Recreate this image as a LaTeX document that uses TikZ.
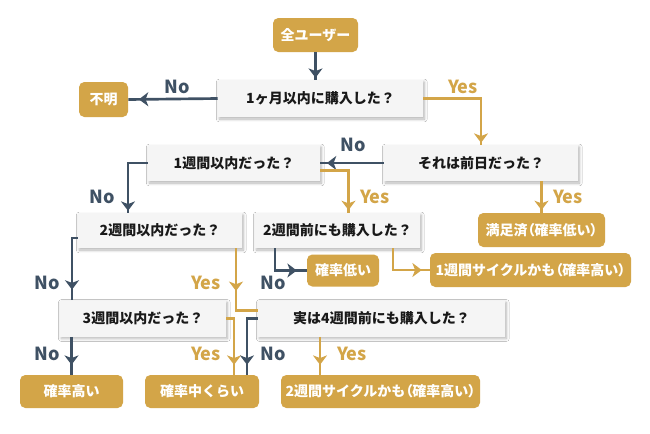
\documentclass[tikz,border=0pt]{standalone}
\usepackage{fontspec}
\setmainfont{Noto Sans CJK JP}
\usetikzlibrary{arrows.meta,decorations.markings,shadows.blur,calc}
\definecolor{gold}{HTML}{D3A548}
\definecolor{navy}{HTML}{3F5164}
\definecolor{qfill}{HTML}{F5F5F5}
\newcommand\jlp{{\addfontfeature{RawFeature=+palt}（}}
\newcommand\jrp{{\addfontfeature{RawFeature=+palt}）}}
\tikzset{
  qbox/.style={fill=qfill, text=black!90, inner sep=0pt,
    font=\fontsize{10.5}{12}\selectfont\bfseries,
    blur shadow={shadow xshift=1pt, shadow yshift=-1.5pt, shadow blur steps=6, shadow opacity=30}},
  abox/.style={fill=gold, rounded corners=4pt, text=white, inner sep=0pt,
    font=\fontsize{10.5}{12}\selectfont\bfseries},
  sz/.style 2 args={minimum width=#1, minimum height=#2},
  conn/.style={line width=2pt},
  nconn/.style={conn, draw=navy},
  yconn/.style={conn, draw=gold},
  tipgap/.style={postaction={decorate}, decoration={markings,
    mark=at position -#1 with {\arrow{Stealth[length=7pt,width=10.5pt,inset=2pt]}}}},
  nolab/.style={text=navy, font=\fontsize{13.5}{15}\selectfont\bfseries, inner sep=0pt},
  yeslab/.style={text=gold, font=\fontsize{13.5}{15}\selectfont\bfseries, inner sep=0pt},
}
\begin{document}
\begin{tikzpicture}[x=0.75pt,y=-0.75pt]
\useasboundingbox[fill=white] (0,0) rectangle (650,433);
% nodes
\node[abox, sz={63.75pt}{25.5pt}] (all) at (315.5,35) {全ユーザー};
\node[qbox, sz={153.75pt}{27.75pt}] (m1) at (320.5,98.5) {1ヶ月以内に購入した？};
\node[abox, sz={36.75pt}{26.25pt}] (fumei) at (103.5,99.5) {不明};
\node[qbox, sz={145.5pt}{27pt}] (zen) at (481,163) {それは前日だった？};
\node[qbox, sz={129pt}{27pt}] (w1) at (234,163) {1週間以内だった？};
\node[abox, sz={95.25pt}{25.5pt}] (manzoku) at (541.5,230) {満足済\jlp 確率低い\jrp};
\node[qbox, sz={123.75pt}{26.25pt}] (w2mae) at (337.5,230.5) {2週間前にも購入した？};
\node[qbox, sz={123pt}{26.25pt}] (w2) at (160,230.5) {2週間以内だった？};
\node[abox, sz={54pt}{24pt}] (low) at (343,270.5) {確率低い};
\node[abox, sz={150.75pt}{25.5pt}] (cyc1) at (530.5,270) {1週間サイクルかも\jlp 確率高い\jrp};
\node[qbox, sz={124.5pt}{27pt}] (w3) at (143,318.5) {3週間以内だった？};
\node[qbox, sz={185.25pt}{27pt}] (w4) at (381.5,318.5) {実は4週間前にも購入した？};
\node[abox, sz={77.25pt}{24.75pt}] (high) at (71.5,391.5) {確率高い};
\node[abox, sz={85.5pt}{24.75pt}] (mid) at (202,391.5) {確率中くらい};
\node[abox, sz={149.25pt}{24.75pt}] (cyc2) at (380.5,391.5) {2週間サイクルかも\jlp 確率高い\jrp};
% connectors
\draw[nconn, tipgap=1.5pt] (all.south) -- (all.south |- m1.north);
\draw[nconn, tipgap=8pt] (m1.west) -- (fumei.east);
\draw[yconn, tipgap=1.5pt] (m1.east) -| (zen.north);
\draw[nconn, tipgap=5pt] (zen.west) -- (w1.east);
\draw[yconn, tipgap=2pt] (zen.south -| manzoku.north) -- (manzoku.north);
\draw[yconn, tipgap=2pt] ($(w1.east)+(0,7.5)$) -| ($(w2mae.north)+(11,0)$);
\draw[nconn, tipgap=1.5pt] (w1.west) -| ($(w2.north)+(-32,0)$);
\draw[nconn, tipgap=7.5pt] ($(w2mae.south)+(-62.5,0)$) |- (low.west);
\draw[yconn, tipgap=6pt] ($(w2mae.south)+(55.5,0)$) |- (cyc1.west);
\draw[nconn, tipgap=8pt] ($(w2.west)+(0,7.5)$) -| ($(w3.north)+(-71,0)$);
\draw[yconn, tipgap=31pt] ($(w2.south)+(76,0)$) |- ($(w4.west)+(0,-8)$);
\draw[nconn, tipgap=7.5pt] (w3.south -| high.north) -- (high.north);
\draw[yconn, tipgap=7.5pt] (w3.east) -| ($(mid.north)+(32,0)$);
\draw[nconn, tipgap=7.5pt] (w4.west) -| ($(mid.north)+(45,0)$);
\draw[yconn, tipgap=7.5pt] ($(w4.south)+(-61.5,0)$) -- ($(cyc2.north)+(-60.5,0)$);
% labels
\node[nolab] (n1) at (177,87) {No};
\node[yeslab] (y1) at (463,87) {Yes};
\node[nolab] (n2) at (353,145) {No};
\node[yeslab] (y2) at (375,197) {Yes};
\node[yeslab] (y3) at (568,197) {Yes};
\node[nolab] (n3) at (102,197) {No};
\node[nolab] (n4) at (47,283) {No};
\node[yeslab] (y4) at (206,283) {Yes};
\node[nolab] (n5) at (273,283) {No};
\node[nolab] (n6) at (47,354) {No};
\node[yeslab] (y5) at (206,354) {Yes};
\node[nolab] (n7) at (273,354) {No};
\node[yeslab] (y6) at (352,354) {Yes};
\end{tikzpicture}
\end{document}
